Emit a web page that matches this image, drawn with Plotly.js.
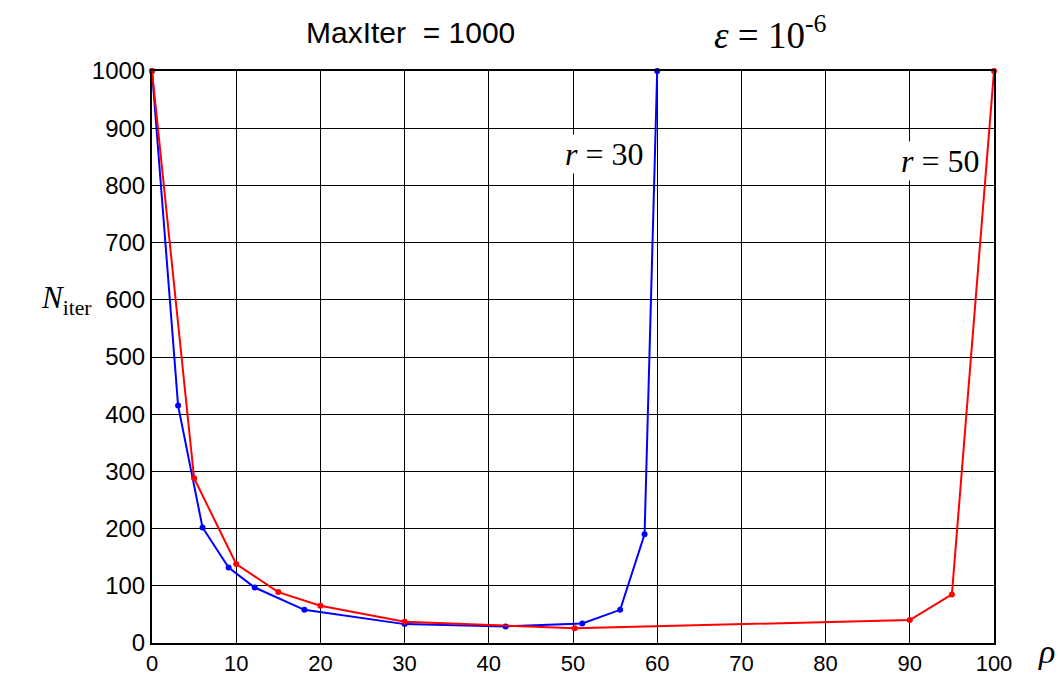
<!DOCTYPE html>
<html>
<head>
<meta charset="utf-8">
<script src="https://cdn.plot.ly/plotly-3.0.1.min.js"></script>
<style>html,body{margin:0;padding:0;background:#fff;}#chart{width:1060px;height:677px;}</style>
</head>
<body>
<div id="chart"></div>
<script>
// r = 30 series (blue)
const rho30 = [0, 3.1, 6, 9.1, 12.2, 18.1, 30, 42, 51.1, 55.6, 58.5, 60];
const iter30 = [1000, 415, 202, 132, 97, 58, 33, 29, 34, 58, 190, 1000];
// r = 50 series (red)
const rho50 = [0, 5, 10, 15, 20, 30, 50.2, 90, 95, 100];
const iter50 = [1000, 288, 138, 89, 65, 37, 26, 40, 85, 1000];
const xTicks = [0,10,20,30,40,50,60,70,80,90,100];
const yTicks = [0,100,200,300,400,500,600,700,800,900,1000];

const traces = [
  {x: rho30, y: iter30, mode: 'lines+markers', line: {color: '#0000ff', width: 2},
   marker: {color: '#0000ff', size: 6}, cliponaxis: false, showlegend: false},
  {x: rho50, y: iter50, mode: 'lines+markers', line: {color: '#ff0000', width: 2},
   marker: {color: '#ff0000', size: 6}, cliponaxis: false, showlegend: false}
];

const serif = 'Liberation Serif, Times New Roman, serif';
const sans = 'Liberation Sans, Arial, sans-serif';

const layout = {
  width: 1060, height: 677,
  margin: {l: 152, r: 66, t: 71, b: 34},
  paper_bgcolor: '#fff', plot_bgcolor: '#fff',
  xaxis: {range: [0, 100], tickvals: xTicks, ticktext: xTicks.map(String),
    showgrid: true, gridcolor: '#000', gridwidth: 1,
    showline: true, linecolor: '#000', linewidth: 2, mirror: true,
    ticks: 'inside', ticklen: 6, tickcolor: '#000', zeroline: false,
    tickfont: {family: sans, size: 22, color: '#000'}, fixedrange: true},
  yaxis: {range: [0, 1000], tickvals: yTicks, ticktext: yTicks.map(String),
    showgrid: true, gridcolor: '#000', gridwidth: 1,
    showline: true, linecolor: '#000', linewidth: 2, mirror: true,
    ticks: 'inside', ticklen: 6, tickcolor: '#000', zeroline: false,
    tickfont: {family: sans, size: 24, color: '#000'}, fixedrange: true},
  annotations: [
    {xref: 'paper', yref: 'paper', x: 0.307, y: 1.0, xanchor: 'center', yanchor: 'middle', yshift: 39,
     text: 'MaxIter  = 1000', showarrow: false,
     font: {family: sans, size: 30, color: '#000'}},
    {xref: 'paper', yref: 'paper', x: 0.734, y: 1.0, xanchor: 'center', yanchor: 'middle', yshift: 39,
     text: '<i>ε</i> = 10<sup>-6</sup>', showarrow: false,
     font: {family: serif, size: 37, color: '#000'}},
    {xref: 'x', yref: 'y', x: 53.7, y: 855, text: '<i>r</i> = 30', showarrow: false,
     bgcolor: '#fff', font: {family: serif, size: 32, color: '#000'}},
    {xref: 'x', yref: 'y', x: 93.7, y: 842, text: '<i>r</i> = 50', showarrow: false,
     bgcolor: '#fff', font: {family: serif, size: 32, color: '#000'}},
    {xref: 'paper', yref: 'paper', x: -0.102, y: 0.6, xanchor: 'center', yanchor: 'middle',
     text: '<i>N</i><sub>iter</sub>', showarrow: false,
     font: {family: serif, size: 31, color: '#000'}},
    {xref: 'paper', yref: 'paper', x: 1.0, y: 0, xanchor: 'center', yanchor: 'middle',
     xshift: 52, yshift: -8,
     text: '<i>ρ</i>', showarrow: false,
     font: {family: serif, size: 34, color: '#000'}}
  ]
};

Plotly.newPlot('chart', traces, layout, {staticPlot: true, displayModeBar: false});
</script>
</body>
</html>
